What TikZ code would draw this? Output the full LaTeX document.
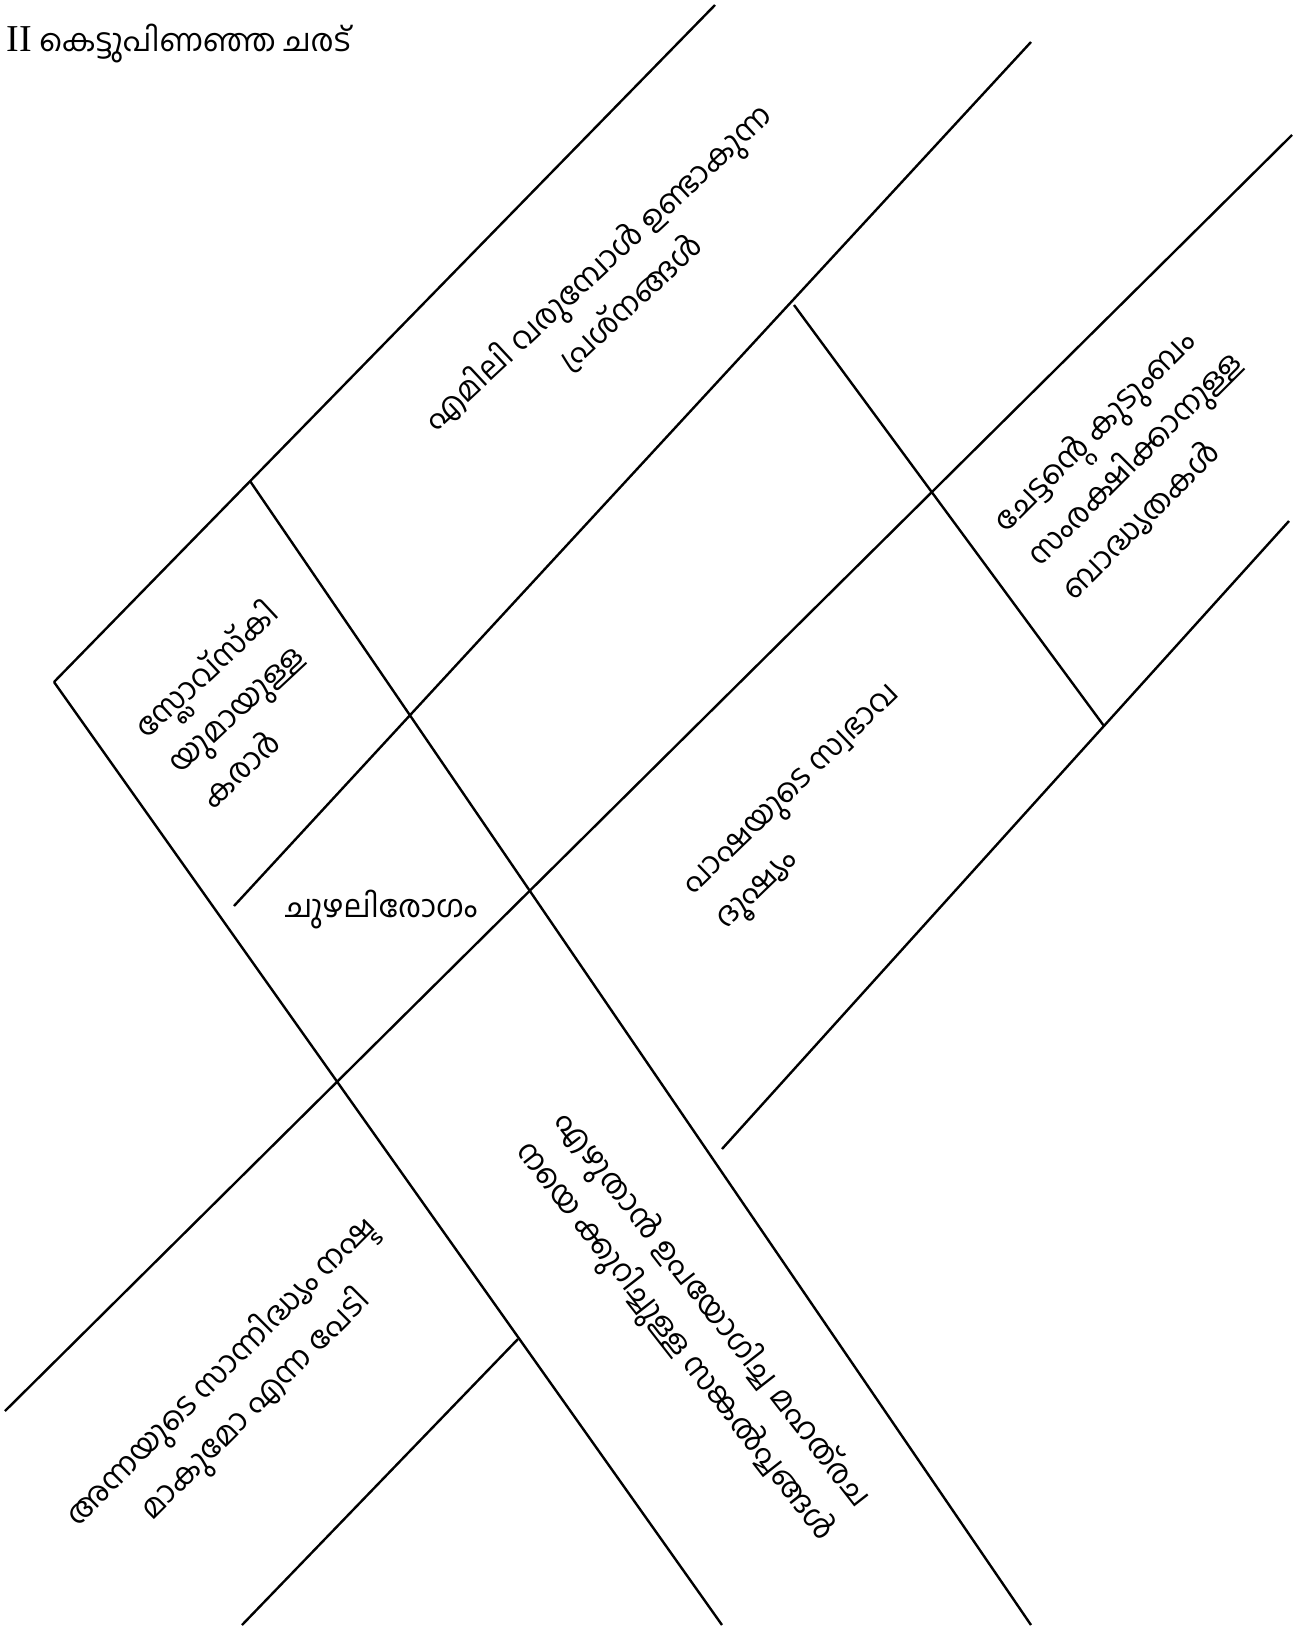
\documentclass[tikz,border=0pt]{standalone}
\usepackage{fontspec}
\setmainfont{Liberation Serif}
\newfontfamily\malfont[Script=Malayalam]{Hind Kochi}

\begin{document}
\begin{tikzpicture}[
  x=0.5pt, y=-0.5pt,
  edge/.style={draw=black, line width=1.2pt},
  tag/.style={font=\malfont\fontsize{15.5}{24}\selectfont, inner sep=2pt},
]
\useasboundingbox[fill=white] (0,0) rectangle (1298,1634);

%% ── Frame lines ──────────────────────────────────────────────────────────────
\coordinate (a) at (54,682);
\coordinate (b) at (715,5);
\coordinate (c) at (250,481);
\coordinate (d) at (1031,42);
\coordinate (e) at (234,906);
\coordinate (f) at (1031,1625);
\coordinate (g) at (722,1625);
\coordinate (h) at (794,305);
\coordinate (i) at (1104,726);
\coordinate (j) at (5,1411);
\coordinate (k) at (1292,135);
\coordinate (l) at (1289,521);
\coordinate (m) at (722,1149);
\coordinate (n) at (242,1625);
\coordinate (o) at (518,1339);

\draw[edge] (a) -- (b);
\draw[edge] (d) -- (e);
\draw[edge] (c) -- (f);
\draw[edge] (a) -- (g);
\draw[edge] (h) -- (i);
\draw[edge] (j) -- (k);
\draw[edge] (l) -- (m);
\draw[edge] (n) -- (o);

%% ── Title ────────────────────────────────────────────────────────────────────
\node[tag, anchor=west] (title) at (2,44)
  {{\rmfamily\fontsize{19}{24}\selectfont II}\ കെട്ടുപിണഞ്ഞ ചരട്};

%% ── Labels ───────────────────────────────────────────────────────────────────
\node[tag, rotate=43, align=center] (emily) at (614,285)
  {എമിലി വരുമ്പോൾ ഉണ്ടാകുന്ന\\പ്രശ്നങ്ങൾ};

\node[tag, rotate=43, align=left, anchor=west] (slovski) at (168,768)
  {സ്ലോവ്സ്കി\\യുമായുള്ള\\കരാർ};

\node[tag] (chuzhali) at (381,910) {ചുഴലിരോഗം};

\node[tag, rotate=44, align=left, anchor=west] (pasha) at (704,913)
  {പാഷയുടെ സ്വഭാവ\\ദൂഷ്യം};

\node[tag, rotate=45, align=left, anchor=west] (chettan) at (1030,563)
  {ചേട്ടന്റെ കുടുംബം\\സംരക്ഷിക്കാനുള്ള\\ബാദ്ധ്യതകൾ};

\node[tag, rotate=45, align=center] (anna) at (239,1389)
  {അന്നയുടെ സാന്നിദ്ധ്യം നഷ്ട\\മാകുമോ എന്ന പേടി};

\node[tag, rotate=-52, align=left, anchor=west] (ezhuthan) at (538,1128)
  {എഴുതാൻ ഉപയോഗിച്ച മഹത്^^^^200cരച\\നയെ ക്കുറിച്ചുള്ള സങ്കൽപ്പങ്ങൾ};

\end{tikzpicture}
\end{document}
